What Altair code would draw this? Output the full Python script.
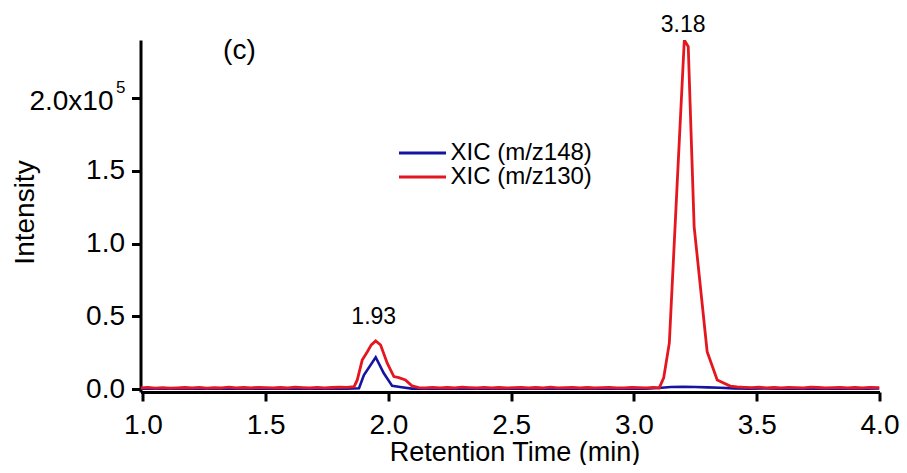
import altair as alt
import pandas as pd

# ---- data ----
series_names = ["XIC (m/z148)", "XIC (m/z130)"]
series_colors = ["#1414A0", "#E4161E"]

t_red = [0.99, 1.02, 1.05, 1.08, 1.11, 1.14, 1.17, 1.20, 1.23, 1.26, 1.29, 1.32, 1.35,
         1.38, 1.41, 1.44, 1.47, 1.50, 1.53, 1.56, 1.59, 1.62, 1.65, 1.68, 1.71, 1.74,
         1.77, 1.80, 1.83, 1.86, 1.873, 1.893, 1.914, 1.93, 1.948, 1.968, 1.995, 2.022,
         2.042, 2.069, 2.096, 2.123, 2.15, 2.18, 2.21, 2.24, 2.27, 2.30, 2.33, 2.36, 2.39,
         2.42, 2.45, 2.48, 2.51, 2.54, 2.57, 2.60, 2.63, 2.66, 2.69, 2.72, 2.75, 2.78,
         2.81, 2.84, 2.87, 2.90, 2.93, 2.96, 2.99, 3.02, 3.05, 3.08, 3.103, 3.121, 3.144,
         3.175, 3.205, 3.221, 3.245, 3.298, 3.339, 3.392, 3.42, 3.45, 3.48, 3.51, 3.54,
         3.57, 3.60, 3.63, 3.66, 3.69, 3.72, 3.75, 3.78, 3.81, 3.84, 3.87, 3.90, 3.93,
         3.96, 4.00]
i_red = [900, 1300, 800, 1100, 700, 1000, 1200, 900, 1300, 800, 1100, 1000, 1400,
         900, 1200, 1000, 1300, 1100, 900, 1200, 1000, 1400, 1100, 900, 1300, 1000,
         1200, 1500, 1300, 1800, 6400, 20000, 25800, 30500, 33200, 30400, 17900, 8700,
         8000, 6400, 2300, 1100, 1000, 1300, 900, 1200, 1000, 1400, 1100, 900, 1300,
         1000, 1200, 900, 1100, 1300, 1000, 1200, 900, 1400, 1000, 1100, 1300, 900,
         1200, 1000, 1100, 1300, 1000, 900, 1200, 1100, 1000, 1300, 900, 7800, 31800,
         138000, 240000, 235500, 111800, 25800, 6400, 2200, 1600, 1300, 1100, 1400, 1000,
         1200, 900, 1300, 1100, 1000, 1400, 1200, 900, 1100, 1300, 1000, 1200, 900,
         1300, 1100]

t_blue = [0.99, 1.05, 1.11, 1.17, 1.23, 1.29, 1.35, 1.41, 1.47, 1.53, 1.59, 1.65,
          1.71, 1.77, 1.83, 1.88, 1.90, 1.948, 1.981, 2.015, 2.054, 2.095, 2.15, 2.21,
          2.27, 2.33, 2.39, 2.45, 2.51, 2.57, 2.63, 2.69, 2.75, 2.81, 2.87, 2.93, 2.99,
          3.05, 3.10, 3.15, 3.20, 3.25, 3.30, 3.35, 3.41, 3.47, 3.53, 3.59, 3.65, 3.71,
          3.77, 3.83, 3.89, 3.95, 4.00]
i_blue = [400, 500, 300, 600, 400, 500, 300, 500, 400, 600, 400, 500,
          300, 500, 400, 700, 9800, 22000, 11000, 2300, 1400, 400, 500, 300,
          600, 400, 500, 300, 500, 400, 600, 300, 500, 400, 500, 300, 600,
          400, 900, 1500, 1700, 1500, 1300, 1000, 600, 400, 500, 300, 500, 400,
          600, 300, 500, 400, 500]

x_min, x_max = 0.99, 4.0
x_ticks = [1.0, 1.5, 2.0, 2.5, 3.0, 3.5, 4.0]
y_ticks = [0, 50000, 100000, 150000, 200000]
y_top_label_value = 200000
y_top_label_main = "2.0x10"
y_top_label_exp = "5"

ann_text = ["1.93", "3.18"]
ann_t = [1.94, 3.20]
ann_i = [49500, 250000]

panel_text = ["(c)"]
panel_t = [1.393]
panel_i = [232500]

# ---- tables ----
df = pd.concat([
    pd.DataFrame({"t": t_blue, "i": i_blue, "s": series_names[0]}),
    pd.DataFrame({"t": t_red, "i": i_red, "s": series_names[1]}),
], ignore_index=True)
ann = pd.DataFrame({"t": ann_t, "i": ann_i, "label": ann_text})
pan = pd.DataFrame({"t": panel_t, "i": panel_i, "label": panel_text})
top_lab = pd.DataFrame({"t": [x_min], "i": [y_top_label_value],
                        "main": [y_top_label_main], "exp": [y_top_label_exp]})

FONT = "Liberation Sans"

x_enc = alt.X("t:Q", scale=alt.Scale(domain=[x_min, x_max], nice=False, zero=False),
              axis=alt.Axis(values=x_ticks, format=".1f", title="Retention Time (min)",
                            labelFontSize=28, titleFontSize=27, labelFont=FONT, titleFont=FONT,
                            titleFontWeight="normal", labelPadding=10, tickSize=9,
                            tickWidth=3, domainWidth=3, domainColor="black", tickColor="black",
                            labelColor="black", titleColor="black", grid=False,
                            titleX=374, titleY=68, titleBaseline="alphabetic",
                            labelFlush=False, labelOverlap=False))
y_enc = alt.Y("i:Q", scale=alt.Scale(domain=[-1900, 240000], nice=False, zero=False),
              axis=alt.Axis(values=y_ticks, title="Intensity",
                            labelExpr=f"datum.value == {y_top_label_value} ? '' : format(datum.value / 100000, '.1f')",
                            labelFontSize=28, titleFontSize=28, labelFont=FONT, titleFont=FONT,
                            titleFontWeight="normal", labelPadding=7, tickSize=9,
                            tickWidth=3, domainWidth=3, domainColor="black", tickColor="black",
                            labelColor="black", titleColor="black", grid=False,
                            titleX=-107, titleY=172, titleBaseline="alphabetic",
                            titleAlign="center", titleAngle=270,
                            labelFlush=False, labelOverlap=False))

color_enc = alt.Color("s:N", scale=alt.Scale(domain=series_names, range=series_colors),
                      legend=alt.Legend(title=None, orient="none", legendX=257, legendY=102,
                                        symbolType="stroke", symbolSize=2209,
                                        symbolStrokeWidth=3, labelFontSize=24, labelFont=FONT,
                                        labelColor="black", labelOffset=3, clipHeight=22,
                                        rowPadding=0, padding=0, labelLimit=400))

base = alt.Chart(df)
blue = base.transform_filter(alt.datum.s == series_names[0]).mark_line(
    strokeWidth=2.6, clip=True).encode(x=x_enc, y=y_enc, color=color_enc, order="t:Q")
red = base.transform_filter(alt.datum.s == series_names[1]).mark_line(
    strokeWidth=2.8, clip=True).encode(x=x_enc, y=y_enc, color=color_enc, order="t:Q")

ann_layer = alt.Chart(ann).mark_text(font=FONT, fontSize=23, color="black",
                                     align="center", baseline="middle").encode(
    x="t:Q", y="i:Q", text="label:N")
pan_layer = alt.Chart(pan).mark_text(font=FONT, fontSize=28, color="black",
                                     align="center", baseline="middle").encode(
    x="t:Q", y="i:Q", text="label:N")

# top y tick label "2.0x10^5" with a raised exponent
top_main = alt.Chart(top_lab).mark_text(font=FONT, fontSize=28, color="black",
                                        align="right", baseline="middle",
                                        dx=-27, dy=4).encode(
    x="t:Q", y="i:Q", text="main:N")
top_exp = alt.Chart(top_lab).mark_text(font=FONT, fontSize=17, color="black",
                                       align="right", baseline="middle",
                                       dx=-15, dy=-10).encode(
    x="t:Q", y="i:Q", text="exp:N")

chart = alt.layer(blue, red, ann_layer, pan_layer, top_main, top_exp).properties(
    width=739, height=352,
    autosize=alt.AutoSizeParams(type="none"),
    padding={"left": 132.5, "top": 32, "right": 19, "bottom": 73},
).configure_view(strokeWidth=0)

chart.save("out.html", embed_options={"renderer": "svg", "actions": False})
